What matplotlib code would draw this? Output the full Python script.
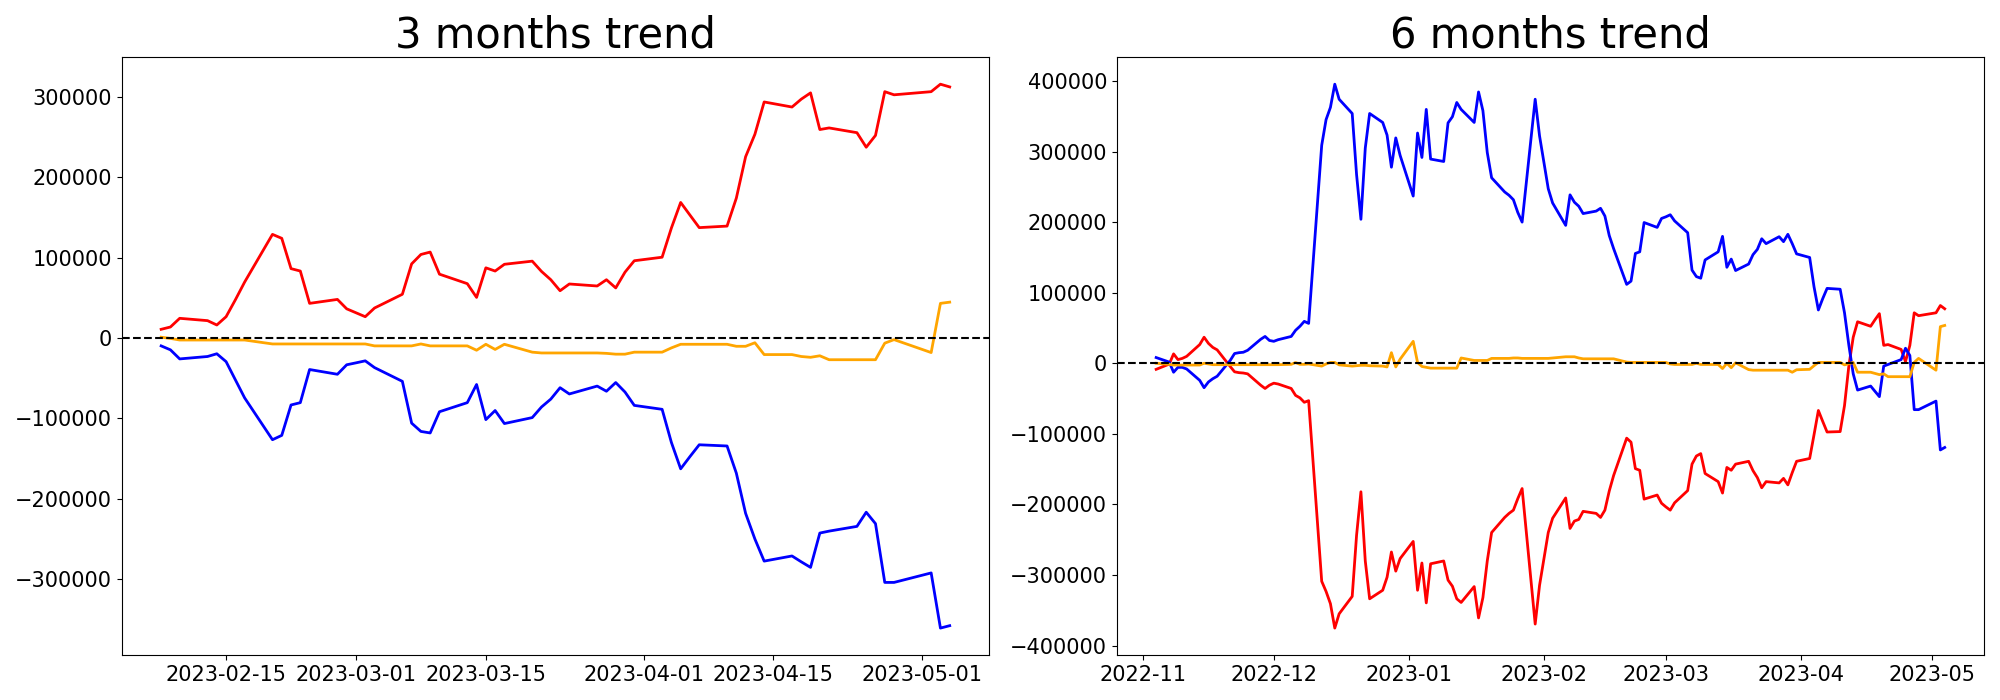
import matplotlib
matplotlib.use("Agg")
import matplotlib.pyplot as plt
import pandas as pd

# ---------------- 3 months data ----------------
dates_3m = [d for d in pd.bdate_range("2023-02-08", "2023-05-04") if d != pd.Timestamp("2023-05-01")]

red_3m = [10800, 13700, 24500, 21600, 16200, 26500, 47500, 69600, 128900, 124000,
          86300, 83300, 43100, 48000, 36300,
          31400, 26500, 37300, 54400, 92200, 103900, 106900, 79400, 67600, 50500,
          87300, 83300, 91700, 95600, 82800, 72500, 58800, 67200, 64700, 72500,
          62300, 81900, 96100,
          100500, 136800, 168600, 152900, 137300, 139200, 174000, 225500, 253400, 293600,
          287300, 297100, 304900, 259300, 261300, 255400, 237300, 252000, 306400, 302500,
          306400, 315700, 312300]

blue_3m = [-9800, -14700, -26000, -23000, -19600, -29400, -52000, -74500, -126500, -121100,
           -83300, -80400, -39200, -45100, -33300,
           -30900, -28400, -36800, -53900, -105900, -116200, -118100, -91700, -80400, -57800,
           -101500, -90200, -106400, -99000, -85800, -76000, -61800, -69600, -59800, -66200,
           -55400, -67200, -83800,
           -88700, -129900, -162700, -147500, -132800, -134300, -168100, -218100, -250000, -277500,
           -271100, -278400, -285300, -242600, -240200, -234300, -216700, -230900, -304000, -304000,
           -292200, -360800, -357800]

orange_3m = [1000, -500, -2500, -2500, -2500, -2500, -2500, -2500, -7400, -7400,
             -7400, -7400, -7400, -7400, -7400,
             -7400, -7400, -9800, -9800, -9800, -7400, -9800, -9800, -9800, -15200,
             -7800, -14200, -7800, -17600, -18600, -18600, -18600, -18600, -18600, -19100,
             -20100, -20100, -17600,
             -17600, -12300, -7800, -7800, -7800, -7800, -10300, -10300, -5900, -20600,
             -20600, -23000, -24000, -22100, -27000, -27000, -27000, -27000, -6400, -2000,
             -18100, 43100, 44600]

# ---------------- 6 months data ----------------
dates_6m = [d for d in pd.bdate_range("2022-11-04", "2023-05-04") if d != pd.Timestamp("2023-05-01")]

red_6m = [
    # Nov
    -8600, -1200, 13300, 5200, 6900, 9800, 26500, 36900, 28200, 22500, 19000,
    -4600, -12100, -13300, -13800, -15000, -31100, -35700, -31100,
    # Dec
    -28200, -29400, -35700, -45500, -49000, -55300, -53000, -308900, -323300, -340600,
    -375200, -355000, -330300, -243800, -182100, -280100, -333700, -321600, -303200, -267400,
    -294500, -276700,
    # Jan
    -252400, -321600, -283000, -339500, -284100, -280100, -307200, -315900, -333700, -338900,
    -316400, -360800, -332000, -280100, -239800, -218400, -212700, -208100, -191900, -177500,
    -369500, -314700,
    # Feb
    -277200, -239800, -219600, -190800, -234000, -223600, -221300, -209800, -212700, -218400,
    -208100, -181000, -159100, -106100, -111800, -149300, -151600, -192500, -186700, -198300,
    # Mar
    -203500, -208100, -197700, -180400, -142900, -131400, -128000, -156200, -167700, -183900,
    -147600, -151600, -142900, -138900, -152200, -162000, -176400, -167700, -169500, -163100,
    -172300, -155000, -138900,
    # Apr
    -134900, -101400, -66900, -82400, -97400, -96800, -59900, -3500, 36900, 58800,
    52400, 61700, 70300, 25400, 26500, 19600, 2300, 25400, 71500, 67400,
    # May
    71500, 81800, 77200]

blue_6m = [
    8100, 1700, -12700, -5800, -5800, -8100, -24200, -34600, -26500, -21900, -18400,
    4000, 13800, 15000, 15600, 18400, 34000, 38000, 32300,
    31100, 33400, 38000, 46700, 52400, 59400, 56500, 308900, 345200, 362500,
    395400, 374100, 353900, 267400, 204000, 304900, 353900, 341200, 323300, 277800,
    319300, 294500,
    236900, 326200, 291600, 359700, 289300, 285900, 340600, 349300, 369500, 359700,
    341200, 384400, 357900, 298600, 262800, 242700, 238000, 231700, 213800, 200000,
    374100, 322200,
    284700, 247300, 227100, 195400, 238600, 228200, 222500, 212100, 215600, 219600,
    208600, 181000, 162500, 111800, 116400, 155600, 157900, 199400, 192500, 205200,
    207500, 210400, 201700, 185000, 132000, 122800, 120500, 146400, 157900, 179800,
    136000, 147600, 131400, 140600, 153900, 161400, 176400, 169500, 179300, 172300,
    182700, 169500, 155000,
    149900, 108400, 75500, 91600, 106100, 104900, 71500, 25400, -15000, -38000,
    -32300, -39800, -47300, -4000, -1700, 5200, 21300, 11000, -65700, -65700,
    -53600, -122800, -119300]

orange_6m = [
    0, -1500, -2500, -2500, -2500, -2500, -2500, 0, -1000, -2000, -2000,
    -2000, -2000, -2000, -2000, -2000, -2000, -2000, -2000,
    -2000, -2000, -1500, 1000, -1500, -1500, -1000, -4000, -1000, 1200,
    1200, -2300, -4000, -3500, -2900, -2900, -3500, -4000, -5200, 15000,
    -5200, 5800,
    31100, 1200, -4600, -5800, -6900, -6900, -6900, -6900, -6900, 7500,
    4000, 4000, 4000, 4000, 6900, 6900, 6900, 7500, 7500, 6900,
    6900, 6900,
    6900, 6900, 7500, 9200, 9200, 9200, 7500, 6300, 6300, 6300,
    6300, 6300, 6300, 1700, 1200, 1200, 1200, 1200, 1200, 1200,
    1200, -1000, -1700, -1700, -1700, 0, -1700, -1700, -1700, -7500,
    0, -6300, 600, -9000, -9800, -9800, -9800, -9800, -9800, -9800,
    -9800, -12700, -9200,
    -8600, -3500, 1200, 1200, 1200, 1200, -2300, -600, 1200, -12700,
    -12700, -14400, -16100, -15000, -19000, -19000, -19000, -19000, 1200, 6900,
    -9800, 51900, 53600]

fig, axes = plt.subplots(1, 2, figsize=(20, 7), dpi=100)

panels = [
    (axes[0], dates_3m, red_3m, blue_3m, orange_3m, "3 months trend"),
    (axes[1], dates_6m, red_6m, blue_6m, orange_6m, "6 months trend"),
]
for ax, d, r, b, o, title in panels:
    ax.plot(d, r, color="red", linewidth=2)
    ax.plot(d, b, color="blue", linewidth=2)
    ax.plot(d, o, color="orange", linewidth=2)
    ax.axhline(0, color="black", linestyle="--", linewidth=1.5)
    ax.set_title(title, fontsize=30)
    ax.tick_params(axis="both", labelsize=15)

fig.tight_layout()
fig.savefig("out.png", dpi=100)
